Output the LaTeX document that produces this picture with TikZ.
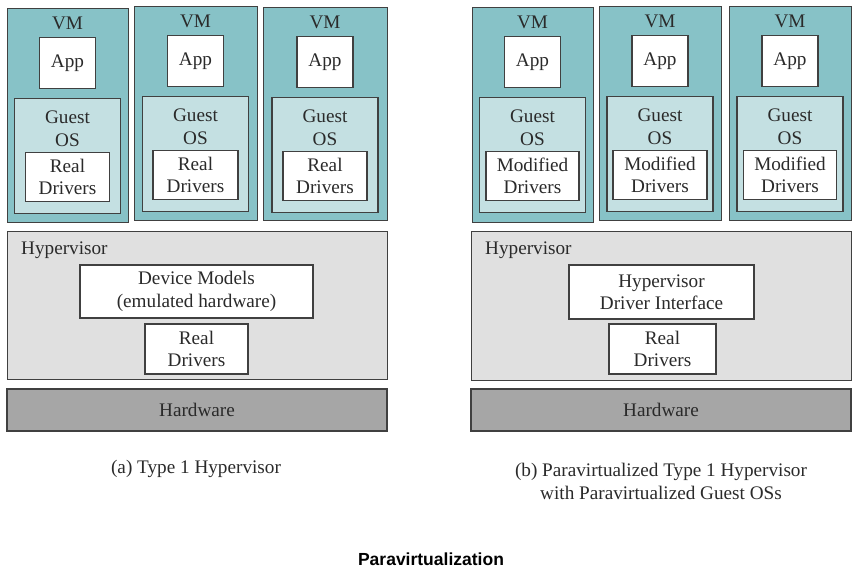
\documentclass[tikz,border=0pt]{standalone}
\usepackage{fontspec}
\setmainfont{Liberation Serif}
\newfontfamily\titlefont{Liberation Sans}
\usepackage{tikz}
\usetikzlibrary{positioning}

\definecolor{vmteal}{HTML}{87C2C7}
\definecolor{guestcyan}{HTML}{C4E0E2}
\definecolor{hypgray}{HTML}{E0E0E0}
\definecolor{hwgray}{HTML}{A6A6A6}
\definecolor{edgegray}{HTML}{404040}
\definecolor{inkgray}{HTML}{2A2A2A}

\tikzset{
  box/.style={draw=edgegray, line width=1.2pt, inner sep=0pt, text=inkgray,
    align=center, font=\fontsize{19.2}{22.5}\selectfont},
  vmbox/.style={box, fill=vmteal},
  guestbox/.style={box, fill=guestcyan},
  whitebox/.style={box, fill=white},
  hypbox/.style={box, fill=hypgray},
  hwbox/.style={box, fill=hwgray},
  plaintext/.style={text=inkgray, inner sep=0pt, align=center,
    font=\fontsize{19.2}{23}\selectfont}
}

\begin{document}
\begin{tikzpicture}[x=1pt, y=-1pt]
    \useasboundingbox (0,0) rectangle (857,573);

    % Virtual machines, left (a) and right (b)
    \foreach \i/\x/\y/\w/\h/\txt/\dw in {
        1/7/8/121/214/Real/84,
        2/134/6/123/214/Real/85,
        3/263/7/124/213/Real/84,
        4/472/7/121/215/Modified/93,
        5/599/6/122/214/Modified/94,
        6/729/6/122/214/Modified/93} {
      \node[vmbox, anchor=north west, minimum width=\w pt, minimum height=\h pt]
        (vm\i) at (\x,\y) {};
      \node[plaintext] (vmlabel\i) at ({\x+\w/2},{\y+15}) {VM};
      \node[whitebox, minimum width=56pt, minimum height=51pt]
        (app\i) at ({\x+\w/2},{\y+55}) {App};
      \node[guestbox, anchor=north, minimum width=106pt, minimum height=115pt]
        (guest\i) at ({\x+\w/2},{\y+90}) {};
      \node[plaintext] (guestlabel\i) at ({\x+\w/2},{\y+121}) {Guest\\OS};
      \node[whitebox, minimum width=\dw pt, minimum height=49pt]
        (drv\i) at ({\x+\w/2},{\y+169}) {\txt\\Drivers};
    }

    % Hypervisor layer (a)
    \node[hypbox, anchor=north west, minimum width=380pt, minimum height=148pt]
      (hypA) at (7,231) {};
    \node[plaintext, anchor=west] (hypAlabel) at (21,250) {Hypervisor};
    \node[whitebox, minimum width=233pt, minimum height=53pt]
      (models) at (196.5,291.5) {Device Models\\(emulated hardware)};
    \node[whitebox, minimum width=103pt, minimum height=50pt]
      (realA) at (196.5,349) {Real\\Drivers};

    % Hypervisor layer (b)
    \node[hypbox, anchor=north west, minimum width=380pt, minimum height=149pt]
      (hypB) at (471,231) {};
    \node[plaintext, anchor=west] (hypBlabel) at (485,250) {Hypervisor};
    \node[whitebox, minimum width=185pt, minimum height=54pt]
      (hdi) at (661.5,292) {Hypervisor\\Driver Interface};
    \node[whitebox, minimum width=107pt, minimum height=50pt]
      (realB) at (662.5,349) {Real\\Drivers};

    % Hardware
    \node[hwbox, minimum width=380pt, minimum height=42pt] (hwA) at (197,410) {Hardware};
    \node[hwbox, minimum width=380pt, minimum height=42pt] (hwB) at (661,410) {Hardware};

    % Captions
    \node[plaintext] (capA) at (196,469) {(a) Type 1 Hypervisor};
    \node[plaintext] (capB) at (661,481)
      {(b) Paravirtualized Type 1 Hypervisor\\with Paravirtualized Guest OSs};
    \node[inner sep=0pt, font=\titlefont\bfseries\fontsize{17.5}{20}\selectfont]
      (title) at (431,559) {Paravirtualization};
\end{tikzpicture}
\end{document}
